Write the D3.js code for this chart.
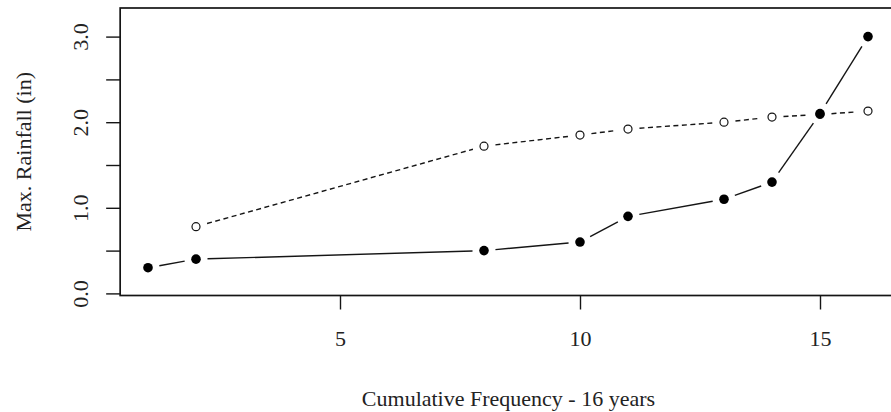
<!DOCTYPE html>
<html>
<head>
<meta charset="utf-8">
<script src="https://cdn.jsdelivr.net/npm/d3@7"></script>
<style>
  html, body { margin: 0; padding: 0; background: #fff; }
  svg text { font-family: "Liberation Serif", "Times New Roman", serif; fill: #222; }
</style>
</head>
<body>
<svg id="chart" width="891" height="412"></svg>
<script>
// ---- data ----
const filledX = [1, 2, 8, 10, 11, 13, 14, 15, 16];
const filledY = [0.30, 0.40, 0.50, 0.60, 0.90, 1.10, 1.30, 2.10, 3.00];
const openX = [2, 8, 10, 11, 13, 14, 15, 16];
const openY = [0.78, 1.72, 1.85, 1.92, 2.00, 2.06, 2.09, 2.13];
const xTicks = [5, 10, 15];
const yTicks = [0, 0.5, 1, 1.5, 2, 2.5, 3];
const yTickLabels = ["0.0", "", "1.0", "", "2.0", "", "3.0"];
const xTitle = "Cumulative Frequency - 16 years";
const yTitle = "Max. Rainfall (in)";

const svg = d3.select("#chart");
const x = d3.scaleLinear().domain([5, 15]).range([340, 820]);
const y = d3.scaleLinear().domain([0, 3]).range([293.4, 36.6]);

const boxL = x(0.42), boxR = x(16.6), boxT = 8, boxB = 295.5;
const ink = "#151515";

// plot box
svg.append("rect")
  .attr("x", boxL).attr("y", boxT)
  .attr("width", boxR - boxL).attr("height", boxB - boxT)
  .attr("fill", "none").attr("stroke", ink).attr("stroke-width", 1.7);

// x axis
const xAxis = svg.append("g").attr("transform", `translate(0,${boxB})`)
  .call(d3.axisBottom(x).tickValues(xTicks).tickSize(14).tickPadding(21).tickFormat(d3.format("d")));
xAxis.select(".domain").remove();
xAxis.selectAll("line").attr("stroke", ink).attr("stroke-width", 1.4);
xAxis.selectAll("text").attr("font-size", 22).attr("fill", ink);

// y axis
const yAxis = svg.append("g").attr("transform", `translate(${boxL},0)`)
  .call(d3.axisLeft(y).tickValues(yTicks).tickSize(14).tickFormat((d, i) => yTickLabels[i]));
yAxis.select(".domain").remove();
yAxis.selectAll("line").attr("stroke", ink).attr("stroke-width", 1.4);
yAxis.selectAll("text")
  .attr("font-size", 22).attr("fill", ink)
  .attr("text-anchor", "middle").attr("dy", null).attr("x", null)
  .attr("transform", "translate(-32,0) rotate(-90)");

// titles
svg.append("text").attr("x", (boxL + boxR) / 2).attr("y", 406)
  .attr("text-anchor", "middle").attr("font-size", 22).attr("fill", ink).text(xTitle);
svg.append("text").attr("transform", `translate(30.5,${(boxT + boxB) / 2}) rotate(-90)`)
  .attr("text-anchor", "middle").attr("font-size", 22).attr("fill", ink).text(yTitle);

// R type="b" style segments with gaps around points
function gappedSegments(xs, ys, gap) {
  const segs = [];
  for (let i = 0; i < xs.length - 1; i++) {
    const x1 = x(xs[i]), y1 = y(ys[i]), x2 = x(xs[i + 1]), y2 = y(ys[i + 1]);
    const len = Math.hypot(x2 - x1, y2 - y1);
    if (len <= 2 * gap) continue;
    const ux = (x2 - x1) / len, uy = (y2 - y1) / len;
    segs.push([x1 + ux * gap, y1 + uy * gap, x2 - ux * gap, y2 - uy * gap]);
  }
  return segs;
}

svg.append("g").selectAll("line").data(gappedSegments(openX, openY, 11.5)).join("line")
  .attr("x1", d => d[0]).attr("y1", d => d[1]).attr("x2", d => d[2]).attr("y2", d => d[3])
  .attr("stroke", ink).attr("stroke-width", 1.4).attr("stroke-dasharray", "5,3.5");

svg.append("g").selectAll("line").data(gappedSegments(filledX, filledY, 11.5)).join("line")
  .attr("x1", d => d[0]).attr("y1", d => d[1]).attr("x2", d => d[2]).attr("y2", d => d[3])
  .attr("stroke", ink).attr("stroke-width", 1.4);

// points
svg.append("g").selectAll("circle").data(openX.map((d, i) => [d, openY[i]])).join("circle")
  .attr("cx", d => x(d[0])).attr("cy", d => y(d[1])).attr("r", 4)
  .attr("fill", "#fff").attr("stroke", ink).attr("stroke-width", 1.2);

svg.append("g").selectAll("circle").data(filledX.map((d, i) => [d, filledY[i]])).join("circle")
  .attr("cx", d => x(d[0])).attr("cy", d => y(d[1])).attr("r", 4.8)
  .attr("fill", "#000");
</script>
</body>
</html>
